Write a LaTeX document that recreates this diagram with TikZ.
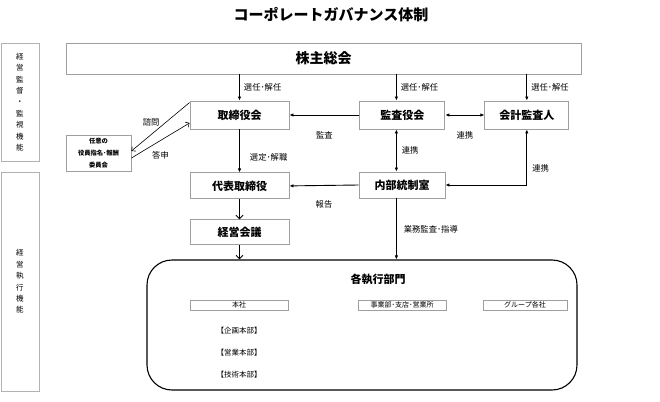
\documentclass[tikz,border=0pt]{standalone}
\usepackage{fontspec}
\setmainfont{Noto Sans CJK JP}
\usetikzlibrary{arrows.meta, positioning}

\begin{document}
\begin{tikzpicture}[
    x=1pt, y=-1pt,
    box/.style={
      rectangle,
      draw=gray!75,
      line width=0.9pt,
      inner sep=0pt,
      font=\bfseries\fontsize{11}{13}\selectfont
    },
    subbox/.style={rectangle, draw=gray!75, line width=0.6pt, inner sep=0pt,
      minimum height=10pt, font=\fontsize{7}{8}\selectfont},
    side/.style={rectangle, draw=gray!60, line width=0.8pt, minimum width=38pt,
      inner sep=0pt, align=center, font=\fontsize{7.5}{11.4}\selectfont},
    lbl/.style={inner sep=0pt, font=\fontsize{8.3}{9}\selectfont},
    conn/.style={line width=0.9pt},
    openarr/.style={-{Straight Barb[length=3.5pt,width=7pt]}},
    thinarr/.style={line width=0.6pt, -{Straight Barb[length=3pt,width=6pt]}},
    >={Latex[length=4pt,width=3.5pt]}
  ]
    \useasboundingbox (0,0) rectangle (660,401);

    \node (title) at (331,15) [font=\bfseries\fontsize{15}{17}\selectfont] {コーポレートガバナンス体制};

    % Left column: function bands
    \node (monitor) [side, minimum height=118pt] at (20,102) {経\\営\\監\\督\\・\\監\\視\\機\\能};
    \node (execband) [side, minimum height=219pt] at (20,281.5) {経\\営\\執\\行\\機\\能};

    % Top: shareholders and boards
    \node (share) [box, minimum width=515pt, minimum height=31pt,
      font=\bfseries\fontsize{14}{16}\selectfont] at (323.5,58.5) {株主総会};
    \node (board)   [box, minimum width=99pt, minimum height=28pt] at (239.5,115) {取締役会};
    \node (kansa)   [box, minimum width=85pt, minimum height=28pt, right=70pt of board] {監査役会};
    \node (auditor) [box, minimum width=84pt, minimum height=28pt, right=39pt of kansa] {会計監査人};
    \node (cmte)    [box, minimum width=65pt, minimum height=36pt, align=center,
      font=\bfseries\fontsize{6.3}{12}\selectfont] at (98.5,153) {任意の\\役員指名･報酬\\委員会};

    % Middle: execution
    \node (rep)      [box, minimum width=99pt, minimum height=26pt, below=43pt of board] {代表取締役};
    \node (mgmt)     [box, minimum width=99pt, minimum height=25pt, below=20pt of rep] {経営会議};
    \node (internal) [box, minimum width=86pt, minimum height=26pt] at (402,185) {内部統制室};

    % Bottom: divisions
    \node (exec) [draw, line width=1.1pt, rounded corners=25pt,
      minimum width=430pt, minimum height=130pt] at (362,325) {};
    \node (execlbl) [font=\bfseries\fontsize{11}{13}\selectfont] at (378,279) {各執行部門};
    \node (hq)  [subbox, minimum width=98pt] at (239,305) {本社};
    \node (biz) [subbox, minimum width=88pt] at (402,305) {事業部･支店･営業所};
    \node (grp) [subbox, minimum width=84pt] at (525,305) {グループ各社};
    \node (plan)  [lbl, font=\fontsize{7.5}{9}\selectfont] at (239,331) {【企画本部】};
    \node (sales) [lbl, font=\fontsize{7.5}{9}\selectfont] at (239,353) {【営業本部】};
    \node (tech)  [lbl, font=\fontsize{7.5}{9}\selectfont] at (239,375) {【技術本部】};

    \coordinate (kx) at ([xshift=-6pt]kansa.north);

    % Edges
    \draw[->, conn] (share.south -| board.north) -- node[lbl, right=4pt] {選任･解任} (board.north);
    \draw[->, conn] (kx |- share.south) -- node[lbl, right=4pt] {選任･解任} (kx);
    \draw[->, conn] (share.south -| auditor.north) -- node[lbl, right=4pt] {選任･解任} (auditor.north);

    \draw[->, conn] (kansa.west) -- node[lbl, below=16.5pt] {監査} (board.east);
    \draw[<->, conn] (kansa.east) -- node[lbl, below=16.5pt] {連携} (auditor.west);
    \draw[<->, conn] (kx |- kansa.south) -- node[lbl, right=5pt] {連携} (kx |- internal.north);
    \draw[<->, conn] (auditor.south) |- node[lbl, pos=0.35, right=5pt] {連携} (internal.east);
    \draw[->, conn] (internal.west) -- node[lbl, below=14.5pt] {報告} (rep.east);

    \draw[->, conn] (board.south) -- node[lbl, right=10pt, yshift=-6.5pt] {選定･解職} (rep.north);
    \draw[openarr, conn] (rep) -- (mgmt);
    \draw[openarr, conn] (mgmt.south) -- (mgmt.south |- exec.north);
    \draw[->, conn] (kx |- internal.south) -- node[lbl, right=7pt] {業務監査･指導} (kx |- exec.north);

    \draw[thinarr] ([yshift=-2pt]board.north west) -- node[lbl, above left=1pt] {諮問} ([yshift=2pt]cmte.east);
    \draw[thinarr] ([yshift=-5pt]cmte.east) -- node[lbl, below=10.5pt] {答申} ([yshift=-8pt]board.west);

  \end{tikzpicture}
\end{document}
